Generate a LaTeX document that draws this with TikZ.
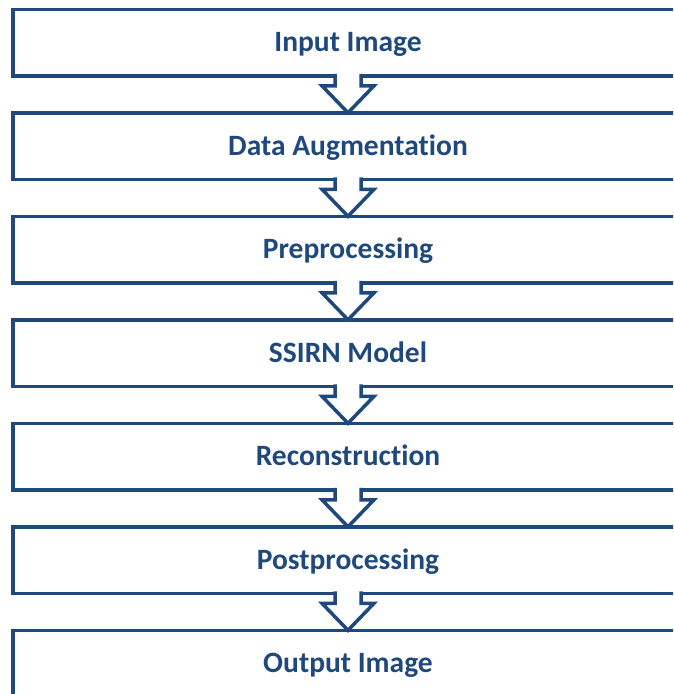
\documentclass[tikz,border=0pt]{standalone}
\usepackage{fontspec}
\setmainfont{Carlito}[Ligatures=NoCommon]
\usetikzlibrary{positioning,calc}
\definecolor{navy}{HTML}{1F497D}

\begin{document}
\begin{tikzpicture}[
        node distance=37pt,
        stage/.style={draw=navy, line width=3.5pt, minimum width=670pt,
            minimum height=66.5pt, outer sep=0pt, text=navy,
            font=\fontsize{29.5pt}{34pt}\selectfont\bfseries,
            text height=19pt, text depth=1pt},
        flow/.style={draw=navy, fill=white, line width=3.5pt,
            to path={($(\tikztostart.south)+(-13pt,2pt)$) --
                ($(\tikztostart.south)+(-13pt,-10pt)$) --
                ($(\tikztostart.south)+(-26pt,-10pt)$) --
                (\tikztotarget.north) --
                ($(\tikztostart.south)+(26pt,-10pt)$) --
                ($(\tikztostart.south)+(13pt,-10pt)$) --
                ($(\tikztostart.south)+(13pt,2pt)$)}},
    ]
    \path[use as bounding box, clip] (0,0) rectangle (673pt,-694pt);
    % stages
    \node[stage] at (348pt,-42.55pt) (img) {Input Image};
    \node[stage, below=of img] (aug) {Data Augmentation};
    \node[stage, below=of aug] (pre) {Preprocessing};
    \node[stage, below=of pre] (ssirn) {SSIRN Model};
    \node[stage, below=of ssirn] (rec) {Reconstruction};
    \node[stage, below=of rec] (post) {Postprocessing};
    \node[stage, below=of post] (out) {Output Image};

    % block arrows
    \draw[flow] (img) to (aug);
    \draw[flow] (aug) to (pre);
    \draw[flow] (pre) to (ssirn);
    \draw[flow] (ssirn) to (rec);
    \draw[flow] (rec) to (post);
    \draw[flow] (post) to (out);
\end{tikzpicture}
\end{document}
